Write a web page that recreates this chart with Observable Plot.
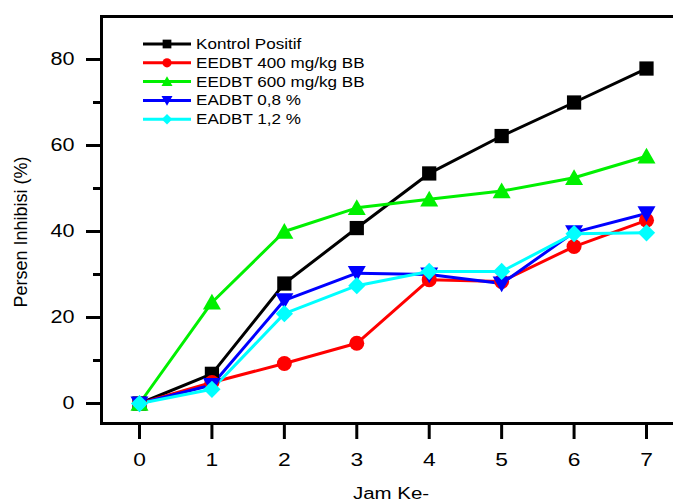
<!DOCTYPE html>
<html>
<head>
<meta charset="utf-8">
<script src="https://cdn.jsdelivr.net/npm/d3@7"></script>
<script src="https://cdn.jsdelivr.net/npm/@observablehq/plot@0.6"></script>
<style>
  html, body { margin: 0; padding: 0; background: white; }
  #chart { position: relative; width: 673px; height: 502px; overflow: hidden; }
</style>
</head>
<body>
<div id="chart"></div>
<script>
// ---- data ----
const hours = [0, 1, 2, 3, 4, 5, 6, 7];
const seriesNames = ["Kontrol Positif", "EEDBT 400 mg/kg BB", "EEDBT 600 mg/kg BB", "EADBT 0,8 %", "EADBT 1,2 %"];
const kontrol  = [0, 6.9, 27.9, 40.8, 53.5, 62.2, 70.0, 77.9];
const eedbt400 = [0, 4.9, 9.3, 14.0, 28.8, 28.4, 36.5, 42.6];
const eedbt600 = [0, 23.5, 40.0, 45.5, 47.5, 49.4, 52.5, 57.5];
const eadbt08  = [0, 4.3, 24.0, 30.3, 30.0, 27.9, 39.8, 44.2];
const eadbt12  = [0, 3.3, 20.9, 27.4, 30.7, 30.7, 39.5, 39.7];
const yMajor = [0, 20, 40, 60, 80];
const yMinor = [10, 30, 50, 70];
const xTicks = [0, 1, 2, 3, 4, 5, 6, 7];

// ---- styling ----
const colors = ["#000000", "#ff0000", "#00f000", "#0000ff", "#00ffff"];
const rad = s => Math.sqrt(s / Math.PI);
const symSquare = {draw(c, s) { const h = rad(s) * 0.95; c.moveTo(-h, -h); c.lineTo(h, -h); c.lineTo(h, h); c.lineTo(-h, h); c.closePath(); }};
const symCircle = {draw(c, s) { const r = rad(s); c.moveTo(r, 0); c.arc(0, 0, r, 0, 2 * Math.PI); c.closePath(); }};
const symTriUp = {draw(c, s) { const r = rad(s); c.moveTo(0, -1.15 * r); c.lineTo(1.2 * r, 0.95 * r); c.lineTo(-1.2 * r, 0.95 * r); c.closePath(); }};
const symTriDown = {draw(c, s) { const r = rad(s); c.moveTo(0, 1.15 * r); c.lineTo(1.2 * r, -0.95 * r); c.lineTo(-1.2 * r, -0.95 * r); c.closePath(); }};
const symDiamond = {draw(c, s) { const r = rad(s) * 1.15; c.moveTo(0, -r); c.lineTo(r, 0); c.lineTo(0, r); c.lineTo(-r, 0); c.closePath(); }};
const symbols = [symSquare, symCircle, symTriUp, symTriDown, symDiamond];

const valuesList = [kontrol, eedbt400, eedbt600, eadbt08, eadbt12];
const tables = valuesList.map((vals, i) => hours.map((h, j) => ({hour: h, value: vals[j], series: seriesNames[i]})));

const seriesMarks = [];
tables.forEach((t, i) => {
  seriesMarks.push(Plot.line(t, {x: "hour", y: "value", stroke: colors[i], strokeWidth: 3}));
});
tables.forEach((t, i) => {
  seriesMarks.push(Plot.dot(t, {x: "hour", y: "value", fill: colors[i], stroke: "none", r: 7.5, symbol: symbols[i]}));
});

const plot = Plot.plot({
  width: 673,
  height: 502,
  marginLeft: 101,
  marginTop: 16,
  marginBottom: 79,
  marginRight: -6,
  style: {fontFamily: "'Liberation Sans', Arial, sans-serif", background: "white", color: "black"},
  x: {domain: [-0.5246, 7.4556]},
  y: {domain: [-4.651, 90]},
  marks: [
    Plot.axisY({ticks: yMajor, tickSize: 15, tickPadding: 12, strokeWidth: 3, fontSize: 18, label: null, tickFormat: d => d}),
    Plot.axisY({ticks: yMinor, tickSize: 8, strokeWidth: 3, text: null, label: null}),
    Plot.axisX({ticks: xTicks, tickSize: 16, tickPadding: 13, strokeWidth: 3, fontSize: 19, label: null, tickFormat: d => d}),
    ...seriesMarks,
    Plot.frame({stroke: "black", strokeWidth: 3})
  ]
});

document.getElementById("chart").appendChild(plot);
const svg = d3.select(plot);
svg.style("overflow", "hidden");

// stretch tick labels horizontally to match reference proportions
svg.selectAll("g[aria-label='y-axis tick label'] text, g[aria-label='x-axis tick label'] text").each(function() {
  const t = this.getAttribute("transform") || "";
  this.setAttribute("transform", t + " scale(1.2,1)");
});

// axis titles
svg.append("text")
  .attr("transform", "translate(391,499) scale(1.28,1)")
  .attr("text-anchor", "middle")
  .attr("font-size", 16)
  .attr("font-family", "'Liberation Sans', Arial, sans-serif")
  .text("Jam Ke-");
svg.append("text")
  .attr("transform", "translate(27,232) rotate(-90)")
  .attr("text-anchor", "middle")
  .attr("font-size", 18)
  .attr("font-family", "'Liberation Sans', Arial, sans-serif")
  .text("Persen Inhibisi (%)");

// legend
const lg = svg.append("g").attr("aria-label", "legend");
seriesNames.forEach((name, i) => {
  const y = 44 + i * 18.8;
  lg.append("line").attr("x1", 143).attr("x2", 191).attr("y1", y).attr("y2", y)
    .attr("stroke", colors[i]).attr("stroke-width", 3);
  const p = d3.path();
  symbols[i].draw(p, Math.PI * 4.6 * 4.6);
  lg.append("path").attr("d", p.toString()).attr("transform", `translate(167,${y})`).attr("fill", colors[i]);
  lg.append("text")
    .attr("transform", `translate(196,${y + 5}) scale(1.22,1)`)
    .attr("text-anchor", "start")
    .attr("font-size", 14)
    .attr("font-family", "'Liberation Sans', Arial, sans-serif")
    .text(name);
});
</script>
</body>
</html>
